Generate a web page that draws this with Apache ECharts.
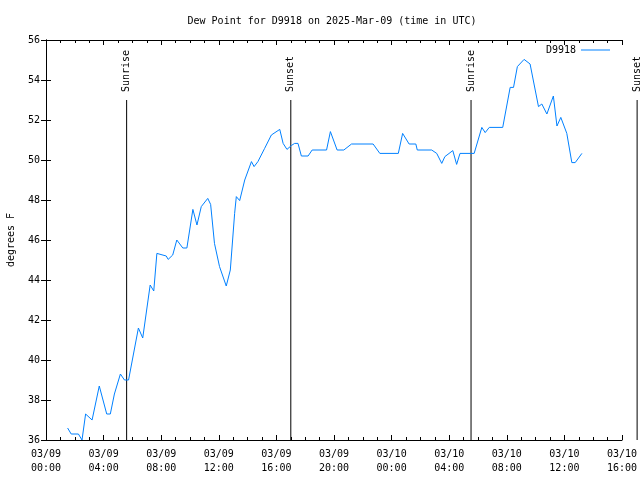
<!DOCTYPE html>
<html>
<head>
<meta charset="utf-8">
<script src="https://cdn.jsdelivr.net/npm/echarts@6/dist/echarts.min.js"></script>
<style>html,body{margin:0;padding:0;background:#fff}#c{width:640px;height:480px}</style>
</head>
<body>
<div id="c"></div>
<script>
var times = ['03/09 01:30','03/09 01:45','03/09 02:15','03/09 02:30','03/09 02:45','03/09 03:12','03/09 03:42','03/09 04:13','03/09 04:28','03/09 04:45','03/09 05:10','03/09 05:27','03/09 05:44','03/09 06:25','03/09 06:43','03/09 07:14','03/09 07:29','03/09 07:42','03/09 08:21','03/09 08:29','03/09 08:48','03/09 09:05','03/09 09:30','03/09 09:47','03/09 10:12','03/09 10:29','03/09 10:47','03/09 11:14','03/09 11:26','03/09 11:42','03/09 12:03','03/09 12:31','03/09 12:48','03/09 13:06','03/09 13:13','03/09 13:27','03/09 13:48','03/09 14:16','03/09 14:27','03/09 14:43','03/09 15:11','03/09 15:39','03/09 16:14','03/09 16:28','03/09 16:44','03/09 17:03','03/09 17:16','03/09 17:30','03/09 17:44','03/09 18:12','03/09 18:29','03/09 19:29','03/09 19:45','03/09 20:13','03/09 20:41','03/09 21:13','03/09 22:43','03/09 23:11','03/10 00:28','03/10 00:46','03/10 01:13','03/10 01:41','03/10 01:47','03/10 02:47','03/10 03:08','03/10 03:29','03/10 03:42','03/10 04:15','03/10 04:31','03/10 04:45','03/10 05:44','03/10 06:16','03/10 06:30','03/10 06:47','03/10 07:43','03/10 08:14','03/10 08:28','03/10 08:44','03/10 09:12','03/10 09:37','03/10 10:12','03/10 10:26','03/10 10:47','03/10 11:14','03/10 11:29','03/10 11:45','03/10 12:10','03/10 12:31','03/10 12:45','03/10 13:13'];
var dewPoint = [36.6,36.3,36.3,36.0,37.3,37.0,38.7,37.3,37.3,38.3,39.3,39.0,39.0,41.6,41.1,43.75,43.45,45.33,45.2,45.03,45.25,46.0,45.6,45.6,47.53,46.75,47.67,48.08,47.78,45.83,44.67,43.7,44.5,47.33,48.17,47.97,49.0,49.92,49.67,49.92,50.58,51.25,51.53,50.83,50.53,50.73,50.83,50.83,50.2,50.2,50.5,50.5,51.42,50.5,50.5,50.8,50.8,50.33,50.33,51.33,50.8,50.8,50.5,50.5,50.33,49.83,50.17,50.47,49.78,50.33,50.33,51.63,51.37,51.63,51.63,53.63,53.63,54.67,55.03,54.8,52.67,52.8,52.3,53.2,51.7,52.13,51.33,49.87,49.87,50.33];
var sunEvents = ['Sunrise','Sunset','Sunrise','Sunset'];
var sunTimes = ['03/09 05:36','03/09 17:00','03/10 05:31','03/10 17:03'];
var xTickLabels = ['03/09\n00:00','03/09\n04:00','03/09\n08:00','03/09\n12:00','03/09\n16:00','03/09\n20:00','03/10\n00:00','03/10\n04:00','03/10\n08:00','03/10\n12:00','03/10\n16:00'];
var seriesName = 'D9918';

function toHours(s){
  var d = parseInt(s.substr(3,2),10) - 9;
  var h = parseInt(s.substr(6,2),10), m = parseInt(s.substr(9,2),10);
  return d*24 + h + m/60;
}
var lineData = times.map(function(t,i){return [toHours(t), dewPoint[i]];});
var sunData = sunTimes.map(function(t,i){return [toHours(t), 53, sunEvents[i]];});

var FONT = '"DejaVu Sans Mono", "Liberation Mono", monospace';
var chart = echarts.init(document.getElementById('c'), null, {renderer:'canvas'});
var axisLineStyle = {show:true, lineStyle:{color:'#000', width:1}};
var xCommon = {
  type:'value', min:0, max:40, interval:4,
  axisLine: axisLineStyle,
  axisTick:{show:true, inside:true, length:5, lineStyle:{color:'#000'}},
  minorTick:{show:true, splitNumber:4, length:3, lineStyle:{color:'#000'}},
  splitLine:{show:false}
};
chart.setOption({
  animation:false,
  backgroundColor:'#fff',
  title:{text:'Dew Point for D9918 on 2025-Mar-09 (time in UTC)', left:327, textAlign:'center', top:11,
    textStyle:{fontFamily:FONT, fontSize:10, fontWeight:'normal', color:'#000'}},
  legend:{data:[{name:seriesName, icon:'rect'}], right:25, top:40, align:'right',
    itemWidth:29, itemHeight:1, itemGap:6,
    textStyle:{fontFamily:FONT, fontSize:10, color:'#000', padding:[0,0,0,0]}},
  grid:{left:46, right:18, top:40, bottom:40, containLabel:false, outerBoundsMode:'none'},
  xAxis:[
    Object.assign({}, xCommon, {position:'bottom',
      axisLabel:{show:true, margin:7, fontFamily:FONT, fontSize:10, color:'#000', lineHeight:14,
        formatter:function(v){return xTickLabels[Math.round(v/4)];}}}),
    Object.assign({}, xCommon, {position:'top', axisLabel:{show:false}})
  ],
  yAxis:[
    {type:'value', min:36, max:56, interval:2, position:'left',
      name:'degrees F', nameLocation:'middle', nameGap:30, nameRotate:90,
      nameTextStyle:{fontFamily:FONT, fontSize:10, color:'#000'},
      axisLine:axisLineStyle,
      axisTick:{show:true, inside:true, length:5, lineStyle:{color:'#000'}},
      axisLabel:{margin:6, fontFamily:FONT, fontSize:10, color:'#000'},
      splitLine:{show:false}},
    {type:'value', min:36, max:56, interval:2, position:'right',
      axisLine:axisLineStyle,
      axisTick:{show:true, inside:true, length:5, lineStyle:{color:'#000'}},
      axisLabel:{show:false}, splitLine:{show:false}}
  ],
  series:[
    {name:seriesName, type:'line', data:lineData, showSymbol:false, symbol:'none',
      lineStyle:{color:'#0080ff', width:1}, itemStyle:{color:'#0080ff'}},
    {name:'sun', type:'custom', clip:false, silent:true, data:sunData,
      encode:{x:0, y:1},
      renderItem:function(params, api){
        var top = api.coord([api.value(0), api.value(1)]);
        var bot = api.coord([api.value(0), 36]);
        var label = sunEvents[params.dataIndex];
        return {type:'group', children:[
          {type:'line', shape:{x1:top[0], y1:top[1], x2:bot[0], y2:bot[1]},
            style:{stroke:'#000', lineWidth:1}},
          {type:'text', x:top[0], y:top[1]-8, rotation:Math.PI/2,
            style:{text:label, fill:'#000', font:'10px ' + FONT, textAlign:'left', textVerticalAlign:'middle'}}
        ]};
      }}
  ]
});
</script>
</body>
</html>
